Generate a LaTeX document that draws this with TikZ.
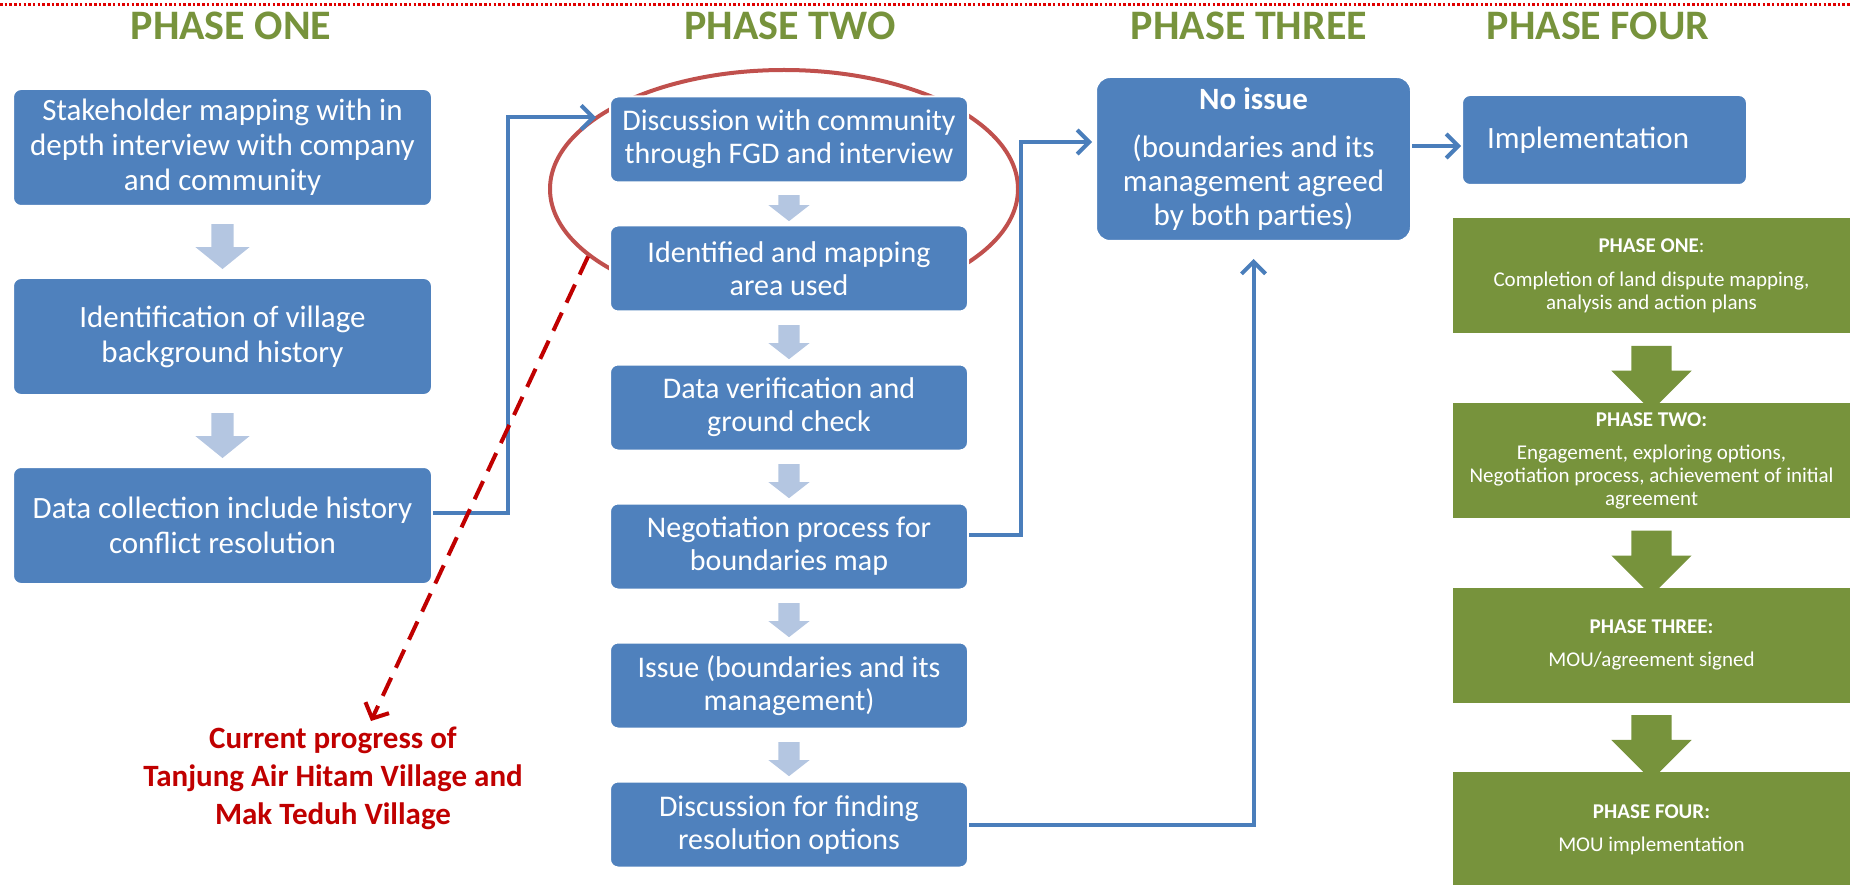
\documentclass[tikz,border=0pt]{standalone}
\usepackage{fontspec}
\setmainfont{Carlito}
\usetikzlibrary{shapes.geometric, shapes.arrows, arrows.meta, positioning, calc}
\definecolor{boxblue}{HTML}{4F81BD}
\definecolor{linkblue}{HTML}{4A7EBB}
\definecolor{paleblue}{HTML}{B4C6E1}
\definecolor{phasegreen}{HTML}{77933C}
\definecolor{ringred}{HTML}{C0504D}
\definecolor{notered}{HTML}{C00000}
\definecolor{dotred}{HTML}{E00000}
\tikzstyle{heading} = [font=\fontsize{42}{46}\selectfont\bfseries, text=phasegreen]
\tikzstyle{stepone} = [rectangle, rounded corners=8pt, fill=boxblue, draw=white, line width=2pt, text=white, align=center, minimum width=419pt, minimum height=117pt, inner sep=0pt, font=\fontsize{31}{35}\selectfont]
\tikzstyle{steptwo} = [stepone, minimum width=358pt, minimum height=86pt, font=\fontsize{30}{33}\selectfont]
\tikzstyle{stepthree} = [stepone, rounded corners=14pt, minimum width=315pt, minimum height=164pt, font=\fontsize{31}{34}\selectfont]
\tikzstyle{phasebox} = [rectangle, fill=phasegreen, text=white, align=center, minimum width=397pt, minimum height=115pt, inner sep=0pt, font=\fontsize{21}{23}\selectfont]
\tikzstyle{bigdown} = [single arrow, rotate=-90, fill=paleblue, inner xsep=0pt, inner ysep=11pt, minimum height=45pt, minimum width=54pt, single arrow head extend=16pt, single arrow tip angle=102]
\tikzstyle{smalldown} = [bigdown, inner ysep=10.5pt, minimum height=34pt, minimum width=41pt, single arrow head extend=10pt, single arrow tip angle=104]
\tikzstyle{greendown} = [bigdown, fill=phasegreen, inner ysep=20pt, minimum height=65pt, minimum width=80pt, single arrow head extend=20pt, single arrow tip angle=90]
\tikzstyle{link} = [line width=4pt, draw=linkblue, -{Straight Barb[length=12pt,width=24pt]}]
\tikzstyle{dashlink} = [line width=4pt, draw=notered, dash pattern=on 20pt off 11pt, -{Straight Barb[length=12pt,width=26pt]}]
\tikzstyle{note} = [text=notered, align=center, font=\fontsize{31}{38}\selectfont\bfseries]
\begin{document}
\begin{tikzpicture}[x=1pt, y=-1pt]
\useasboundingbox (0,0) rectangle (1850,885);
\draw [dotred, line width=3pt, dash pattern=on 2.5pt off 2.2pt] (0,5) -- (1850,5);

% phase titles
\node (hone) [heading] at (231,26) {PHASE ONE};
\node (htwo) [heading] at (790,26) {PHASE TWO};
\node (hthree) [heading] at (1249,26) {PHASE THREE};
\node (hfour) [heading] at (1598,26) {PHASE FOUR};

% ring round the current steps
\node (ring) [ellipse, draw=ringred, line width=4pt, minimum width=468pt, minimum height=238pt, inner sep=0pt] at (784,189) {};

% phase one
\node (stake) [stepone] at (222.5,147.5) {Stakeholder mapping with in\\depth interview with company\\and community};
\node (village) [stepone, below=70pt of stake] {Identification of village\\background history};
\node (collect) [stepone, below=70pt of village] {Data collection include history\\conflict resolution};
\node (aone) [bigdown] at ($(stake.south)!0.5!(village.north)$) {};
\node (atwo) [bigdown] at ($(village.south)!0.5!(collect.north)$) {};

% phase two
\node (discuss) [steptwo] at (789,139.5) {Discussion with community\\through FGD and interview};
\node (areas) [steptwo, below=41pt of discuss] {Identified and mapping\\area used};
\node (verify) [steptwo, below=51pt of areas] {Data verification and\\ground check};
\node (negot) [steptwo, below=51pt of verify] {Negotiation process for\\boundaries map};
\node (issue) [steptwo, below=51pt of negot] {Issue (boundaries and its\\management)};
\node (options) [steptwo, below=51pt of issue] {Discussion for finding\\resolution options};
\node (bone) [smalldown, minimum height=26pt] at ($(discuss.south)!0.5!(areas.north)$) {};
\node (btwo) [smalldown] at ($(areas.south)!0.5!(verify.north)$) {};
\node (bthree) [smalldown] at ($(verify.south)!0.5!(negot.north)$) {};
\node (bfour) [smalldown] at ($(negot.south)!0.5!(issue.north)$) {};
\node (bfive) [smalldown] at ($(issue.south)!0.5!(options.north)$) {};

% phase three and four
\node (noissue) [stepthree] at (1253.5,159) {\textbf{No issue}\\[14pt](boundaries and its\\management agreed\\by both parties)};
\node (impl) [stepone, minimum width=285pt, minimum height=90pt, text width=235pt, align=left] at (1604.5,140) {Implementation};

% summary of phases
\node (gone) [phasebox] at (1651.5,275.5) {\textbf{PHASE ONE}:\\[11pt]Completion of land dispute mapping,\\analysis and action plans};
\node (gtwo) [phasebox, below=70pt of gone] {\textbf{PHASE TWO:}\\[10pt]Engagement, exploring options,\\Negotiation process, achievement of initial\\agreement};
\node (gthree) [phasebox, below=69pt of gtwo] {\textbf{PHASE THREE:}\\[10pt]MOU/agreement signed};
\node (gfour) [phasebox, below=69pt of gthree] {\textbf{PHASE FOUR:}\\[10pt]MOU implementation};
\node (cone) [greendown] at ($(gone.south)!0.5!(gtwo.north)$) {};
\node (ctwo) [greendown] at ($(gtwo.south)!0.5!(gthree.north)$) {};
\node (cthree) [greendown] at ($(gthree.south)!0.5!(gfour.north)$) {};

% connectors
\draw [link] ([yshift=13pt]collect.east) -- ++(75,0) |- ([xshift=-13pt,yshift=22pt]discuss.west);
\draw [link] ([yshift=12pt]negot.east) -- ++(52,0) |- ([xshift=-3pt,yshift=17pt]noissue.west);
\draw [link] (options.east) -| ([yshift=-17pt]noissue.south);
\draw [link] ([yshift=13pt]noissue.east) -- ([yshift=-6pt]impl.west);

% current progress
\coordinate (tip) at (371,721);
\draw [dashlink] (ring.199) -- (tip);
\node (progress) [note] at (333,778) {Current progress of\\Tanjung Air Hitam Village and\\Mak Teduh Village};
\end{tikzpicture}
\end{document}
